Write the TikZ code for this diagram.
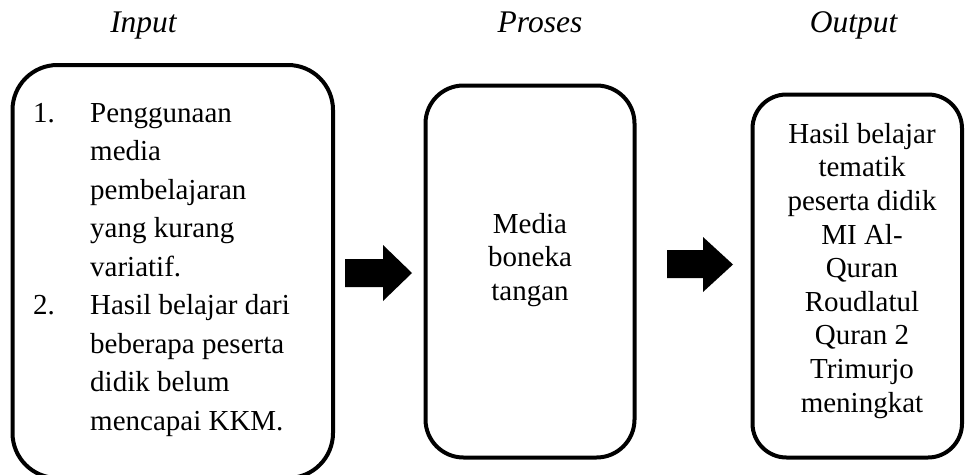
\documentclass[tikz,border=0pt]{standalone}
\usepackage{fontspec}
\setmainfont{Liberation Serif}
\begin{document}
\begin{tikzpicture}[x=1pt,y=-1pt,
  box/.style={draw=black, line width=4pt, inner sep=0pt, outer sep=0pt},
  title/.style={font=\fontsize{31.5}{36}\selectfont\itshape, anchor=base, inner sep=0pt},
  bodyA/.style={font=\fontsize{29}{38.5}\selectfont, align=left, anchor=base west, inner sep=0pt},
  bodyB/.style={font=\fontsize{29}{33.5}\selectfont, align=center, anchor=base, inner sep=0pt},
  blockarrow/.style={fill=black}]
\useasboundingbox (0,0) rectangle (965,474);
\clip (0,0) rectangle (965,474);
% titles
\node[title] (tin) at (143.5,32) {Input};
\node[title] (tpr) at (540,32) {Proses};
\node[title] (tout) at (853.5,32) {Output};
% boxes
\node[box, rounded corners=45pt, minimum width=320.5pt, minimum height=413pt] (in) at (172.75,271.5) {};
\node[box, rounded corners=38pt, minimum width=209pt, minimum height=372pt] (pr) at (530,271.5) {};
\node[box, rounded corners=34pt, minimum width=209.5pt, minimum height=363pt] (out) at (857.25,276) {};
% texts (base anchor = last line baseline)
\node[bodyA] (intext) at (33,430) {\makebox[57pt][l]{1.}Penggunaan\\
\hspace*{57pt}media\\
\hspace*{57pt}pembelajaran\\
\hspace*{57pt}yang kurang\\
\hspace*{57pt}variatif.\\
\makebox[57pt][l]{2.}Hasil belajar dari\\
\hspace*{57pt}beberapa peserta\\
\hspace*{57pt}didik belum\\
\hspace*{57pt}mencapai KKM.};
\node[bodyB] (prtext) at (530,300) {Media\\boneka\\tangan};
\node[bodyB, font=\fontsize{29}{33.6}\selectfont] (outtext) at (862,412) {Hasil belajar\\tematik\\peserta didik\\MI Al-\\Quran\\Roudlatul\\Quran 2\\Trimurjo\\meningkat};
% block arrows
\fill[blockarrow] (345,259) -- (383,259) -- (383,245) -- (412,273) -- (383,301) -- (383,287) -- (345,287) -- cycle;
\fill[blockarrow] (667,250) -- (703,250) -- (703,237) -- (733,264.5) -- (703,292) -- (703,278) -- (667,278) -- cycle;
\end{tikzpicture}
\end{document}
